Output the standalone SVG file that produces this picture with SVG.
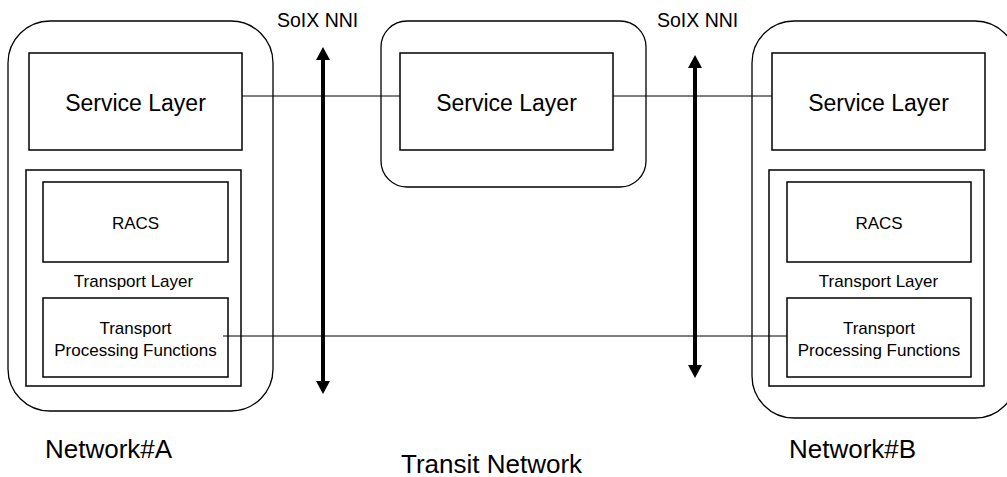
<svg xmlns="http://www.w3.org/2000/svg" width="1007" height="477" viewBox="0 0 1007 477">
<defs>
<marker id="ah" markerUnits="userSpaceOnUse" markerWidth="13" markerHeight="14" viewBox="0 0 13 14" refX="0" refY="7" orient="auto-start-reverse">
<path d="M0,0 L13,7 L0,14 z" fill="#000"/>
</marker>
<style>
.outer{fill:none;stroke:#000;stroke-width:1.3}
.box{fill:#fff;stroke:#000;stroke-width:1.5}
.tbox{fill:none;stroke:#000;stroke-width:1.5}
.line{fill:none;stroke:#000;stroke-width:1}
.nni{fill:none;stroke:#000;stroke-width:4}
text{font-family:"Liberation Sans",Arial,sans-serif;fill:#000}
.svc{font-size:23px;text-anchor:middle}
.sm{font-size:17px;text-anchor:middle}
.lbl{font-size:19.5px}
.big{font-size:26px}
</style>
</defs>
<g id="connectors">
<line class="line" x1="242" y1="96" x2="400" y2="96"/>
<line class="line" x1="613" y1="96" x2="772" y2="96"/>
<line class="line" x1="223" y1="336" x2="787" y2="336"/>
<line class="nni" x1="323" y1="60" x2="323" y2="381" marker-start="url(#ah)" marker-end="url(#ah)"/>
<line class="nni" x1="695" y1="68" x2="695" y2="365" marker-start="url(#ah)" marker-end="url(#ah)"/>
</g>
<g id="networkA">
<rect class="outer" x="8" y="21" width="265" height="390" rx="42" ry="42"/>
<text class="big" x="45" y="458">Network#A</text>
</g>
<g id="serviceA">
<rect class="box" x="29" y="53" width="213" height="97"/>
<text class="svc" x="135.5" y="111">Service Layer</text>
</g>
<g id="transportA">
<rect class="tbox" x="26" y="170" width="215" height="216"/>
<text class="sm" x="133.5" y="287">Transport Layer</text>
</g>
<g id="racsA">
<rect class="box" x="43" y="182" width="185" height="80"/>
<text class="sm" x="135.5" y="229">RACS</text>
</g>
<g id="tpfA">
<rect class="tbox" x="43" y="298" width="185" height="79"/>
<text class="sm" x="135.5" y="334">Transport</text>
<text class="sm" x="135.5" y="356">Processing Functions</text>
</g>
<g id="transit">
<rect class="outer" x="381" y="21" width="265" height="166" rx="26" ry="26"/>
<text class="big" x="401" y="473">Transit Network</text>
</g>
<g id="serviceT">
<rect class="box" x="400" y="53" width="213" height="97"/>
<text class="svc" x="506.5" y="111">Service Layer</text>
</g>
<g id="networkB">
<rect class="outer" x="752" y="21" width="265" height="397" rx="42" ry="42"/>
<text class="big" x="789" y="458">Network#B</text>
</g>
<g id="serviceB">
<rect class="box" x="772" y="53" width="213" height="97"/>
<text class="svc" x="878.5" y="111">Service Layer</text>
</g>
<g id="transportB">
<rect class="tbox" x="769" y="170" width="215" height="216"/>
<text class="sm" x="878.5" y="287">Transport Layer</text>
</g>
<g id="racsB">
<rect class="box" x="787" y="182" width="184" height="80"/>
<text class="sm" x="879" y="229">RACS</text>
</g>
<g id="tpfB">
<rect class="tbox" x="787" y="298" width="184" height="79"/>
<text class="sm" x="879" y="334">Transport</text>
<text class="sm" x="879" y="356">Processing Functions</text>
</g>
<g id="nniA">
<text class="lbl" x="277" y="27">SoIX NNI</text>
</g>
<g id="nniB">
<text class="lbl" x="657" y="27">SoIX NNI</text>
</g>
</svg>
